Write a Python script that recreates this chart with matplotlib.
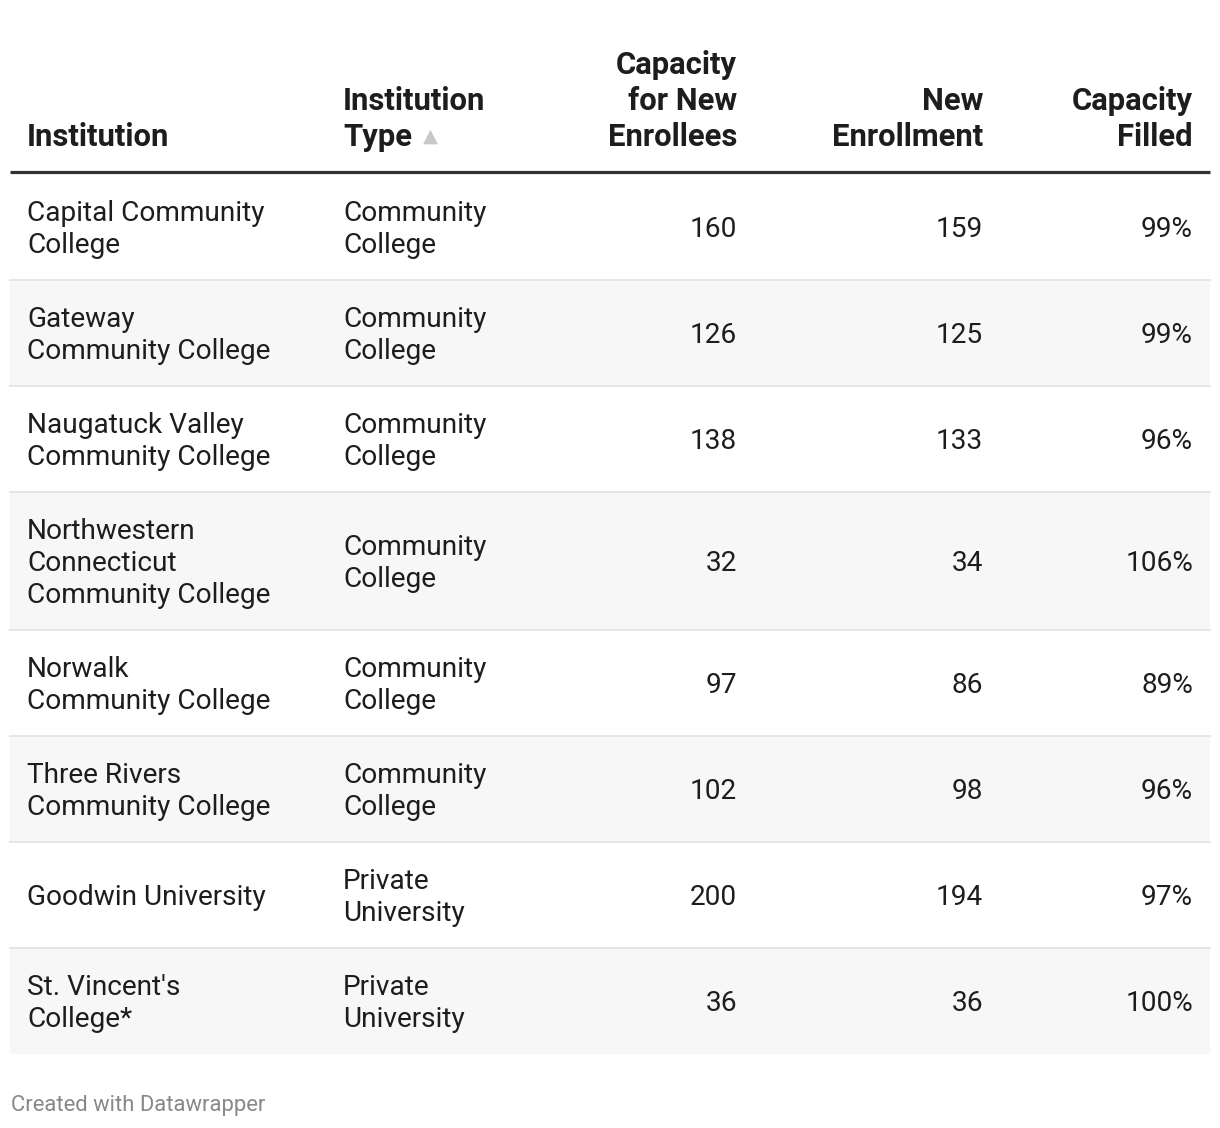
import matplotlib.pyplot as plt
from matplotlib.patches import Rectangle

institutions = ["Capital Community\nCollege", "Gateway\nCommunity College",
                "Naugatuck Valley\nCommunity College",
                "Northwestern\nConnecticut\nCommunity College",
                "Norwalk\nCommunity College", "Three Rivers\nCommunity College",
                "Goodwin University", "St. Vincent's\nCollege*"]
types = ["Community\nCollege"] * 6 + ["Private\nUniversity"] * 2
capacity = [160, 126, 138, 32, 97, 102, 200, 36]
enrollment = [159, 125, 133, 34, 86, 98, 194, 36]
filled = [99, 99, 96, 106, 89, 96, 97, 100]

headers = ["Institution", "Institution\nType", "Capacity\nfor New\nEnrollees",
           "New\nEnrollment", "Capacity\nFilled"]

W, H = 1220, 1128
fig = plt.figure(figsize=(W / 100, H / 100), dpi=100)
ax = fig.add_axes([0, 0, 1, 1])
ax.set_xlim(0, W)
ax.set_ylim(H, 0)
ax.axis("off")

font = "Roboto"
fs = 20.2
dark = "#1d1d1d"

# column anchors: (x, alignment)
cols = [(27, "left"), (343, "left"), (737, "right"), (983, "right"), (1193, "right")]

# header, one text per line so the lines stack from the bottom
for (x, ha), h in zip(cols, headers):
    lines = h.split("\n")
    for k, line in enumerate(reversed(lines)):
        ax.text(x, 146 - 36 * k, line, ha=ha, va="baseline", fontsize=22.3,
                fontweight="bold", family=font, color=dark)
ax.text(430, 136, "▲", ha="center", va="center", fontsize=14,
        family=["DejaVu Sans"], color="#c8c8c8")
ax.plot([10, 1210], [172, 172], color="#333333", lw=2.3, solid_capstyle="butt")

# body rows
y = 174
for i in range(len(institutions)):
    n = max(institutions[i].count("\n"), types[i].count("\n")) + 1
    rh = 42 + 32 * n
    if i % 2 == 1:
        ax.add_patch(Rectangle((10, y), 1200, rh, facecolor="#f7f7f7", edgecolor="none"))
    if i < len(institutions) - 1:
        ax.plot([10, 1210], [y + rh, y + rh], color="#e6e6e6", lw=1.4)
    yc = y + rh / 2
    vals = [institutions[i], types[i], str(capacity[i]), str(enrollment[i]), f"{filled[i]}%"]
    for (x, ha), v in zip(cols, vals):
        lines = v.split("\n")
        m = len(lines)
        for k, line in enumerate(lines):
            ax.text(x, yc + 10 + (k - (m - 1) / 2) * 32, line, ha=ha, va="baseline",
                    fontsize=fs, family=font, color=dark)
    y += rh

ax.text(11, 1105, "Created with Datawrapper", ha="left", va="center",
        fontsize=15.8, family=font, color="#888888")

fig.savefig("out.png", dpi=100, facecolor="white")
